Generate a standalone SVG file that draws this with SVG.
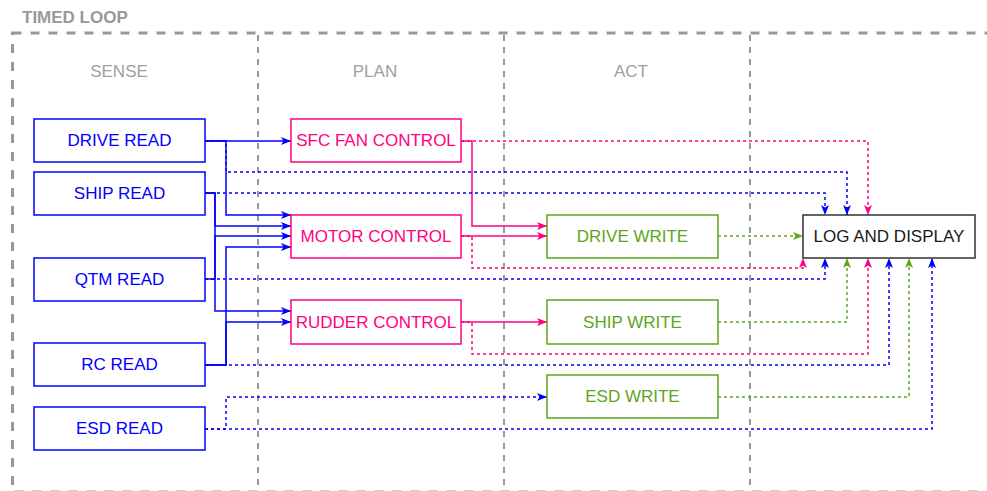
<svg xmlns="http://www.w3.org/2000/svg" width="987" height="491" viewBox="0 0 987 491">
  <style>
    text { font-family: "Liberation Sans", Arial, sans-serif; }
    .title { font-size: 17px; font-weight: bold; fill: #999999; }
    .col { font-size: 17px; fill: #a0a0a0; text-anchor: middle; }
    .lbl { font-size: 17px; text-anchor: middle; dominant-baseline: central; }
    .sense rect { fill: #ffffff; stroke: #0000ff; stroke-width: 1.5; }
    .sense text { fill: #0000ff; }
    .plan rect { fill: #ffffff; stroke: #ff0080; stroke-width: 1.5; }
    .plan text { fill: #ff0080; }
    .act rect { fill: #ffffff; stroke: #5da51e; stroke-width: 1.5; }
    .act text { fill: #5da51e; }
    .log rect { fill: #ffffff; stroke: #333333; stroke-width: 1.5; }
    .log text { fill: #1a1a1a; }
    .frame { fill: none; stroke: #999999; stroke-width: 3; stroke-dasharray: 9 9; }
    .divider { fill: none; stroke: #999999; stroke-width: 2; stroke-dasharray: 6 6; }
    .edge { fill: none; stroke-width: 1.5; }
    .blue { stroke: #0000ff; marker-end: url(#arrow-blue); }
    .pink { stroke: #ff0080; marker-end: url(#arrow-pink); }
    .green { stroke: #5da51e; marker-end: url(#arrow-green); }
    .dot { stroke-dasharray: 3 3; }
  </style>
  <defs>
    <marker id="arrow-blue" viewBox="0 0 10 8" refX="10" refY="4" markerWidth="10" markerHeight="8" markerUnits="userSpaceOnUse" orient="auto">
      <path d="M0,0 L10,4 L0,8 L2.5,4 z" fill="#0000ff"/>
    </marker>
    <marker id="arrow-pink" viewBox="0 0 10 8" refX="10" refY="4" markerWidth="10" markerHeight="8" markerUnits="userSpaceOnUse" orient="auto">
      <path d="M0,0 L10,4 L0,8 L2.5,4 z" fill="#ff0080"/>
    </marker>
    <marker id="arrow-green" viewBox="0 0 10 8" refX="10" refY="4" markerWidth="10" markerHeight="8" markerUnits="userSpaceOnUse" orient="auto">
      <path d="M0,0 L10,4 L0,8 L2.5,4 z" fill="#5da51e"/>
    </marker>
  </defs>

  <rect width="987" height="491" fill="#ffffff"/>

  <!-- timed loop container and column dividers -->
  <g id="timed-loop">
    <text class="title" x="22" y="23">TIMED LOOP</text>
    <rect class="frame" x="12.5" y="33" width="1000" height="459"/>
    <path class="divider" d="M258,35 V491 M504,35 V491 M750,35 V491"/>
    <text class="col" x="119" y="77">SENSE</text>
    <text class="col" x="375" y="77">PLAN</text>
    <text class="col" x="631" y="77">ACT</text>
  </g>

  <!-- connectors -->
  <g id="connectors">
    <!-- sense to plan -->
    <path class="edge blue" d="M205,141 H291"/>
    <path class="edge blue" d="M205,141 H226 V215 H291"/>
    <path class="edge blue" d="M205,193 H215 V226 H291"/>
    <path class="edge blue" d="M205,193 H215 V311 H291"/>
    <path class="edge blue" d="M205,279 H215 V236 H291"/>
    <path class="edge blue" d="M205,365 H226 V247 H291"/>
    <path class="edge blue" d="M205,365 H226 V322 H291"/>
    <!-- plan to act -->
    <path class="edge pink" d="M461,141 H472 V226 H547"/>
    <path class="edge pink" d="M461,236 H547"/>
    <path class="edge pink" d="M461,322 H547"/>
    <!-- into log and display, top side -->
    <path class="edge blue dot" d="M205,141 H226 V172 H847 V215"/>
    <path class="edge blue dot" d="M205,193 H825 V215"/>
    <path class="edge pink dot" d="M461,141 H868 V215"/>
    <!-- into log and display, left side -->
    <path class="edge green dot" d="M718,236 H803"/>
    <!-- into log and display, bottom side -->
    <path class="edge pink dot" d="M461,236 H472 V268 H803 V258"/>
    <path class="edge blue dot" d="M205,279 H825 V258"/>
    <path class="edge green dot" d="M718,322 H847 V258"/>
    <path class="edge pink dot" d="M461,322 H472 V354 H868 V258"/>
    <path class="edge blue dot" d="M205,365 H889 V258"/>
    <path class="edge green dot" d="M718,397 H909 V258"/>
    <path class="edge blue dot" d="M205,429 H932 V258"/>
    <!-- esd read to esd write -->
    <path class="edge blue dot" d="M205,429 H226 V397 H547"/>
  </g>

  <!-- sense -->
  <g id="drive-read" class="sense"><rect x="34" y="119" width="171" height="43"/><text class="lbl" x="119.5" y="140.5">DRIVE READ</text></g>
  <g id="ship-read" class="sense"><rect x="34" y="172" width="171" height="43"/><text class="lbl" x="119.5" y="193.5">SHIP READ</text></g>
  <g id="qtm-read" class="sense"><rect x="34" y="258" width="171" height="43"/><text class="lbl" x="119.5" y="279.5">QTM READ</text></g>
  <g id="rc-read" class="sense"><rect x="34" y="343" width="171" height="43"/><text class="lbl" x="119.5" y="364.5">RC READ</text></g>
  <g id="esd-read" class="sense"><rect x="34" y="407" width="171" height="43"/><text class="lbl" x="119.5" y="428.5">ESD READ</text></g>

  <!-- plan -->
  <g id="sfc-fan-control" class="plan"><rect x="291" y="119" width="170" height="43"/><text class="lbl" x="376" y="140.5">SFC FAN CONTROL</text></g>
  <g id="motor-control" class="plan"><rect x="291" y="215" width="170" height="43"/><text class="lbl" x="376" y="236.5">MOTOR CONTROL</text></g>
  <g id="rudder-control" class="plan"><rect x="291" y="300" width="170" height="44"/><text class="lbl" x="376" y="322">RUDDER CONTROL</text></g>

  <!-- act -->
  <g id="drive-write" class="act"><rect x="547" y="215" width="171" height="43"/><text class="lbl" x="632.5" y="236.5">DRIVE WRITE</text></g>
  <g id="ship-write" class="act"><rect x="547" y="300" width="171" height="44"/><text class="lbl" x="632.5" y="322">SHIP WRITE</text></g>
  <g id="esd-write" class="act"><rect x="547" y="375" width="171" height="43"/><text class="lbl" x="632.5" y="396.5">ESD WRITE</text></g>

  <!-- output -->
  <g id="log-and-display" class="log"><rect x="803" y="215" width="172" height="43"/><text class="lbl" x="889" y="236.5">LOG AND DISPLAY</text></g>
</svg>
